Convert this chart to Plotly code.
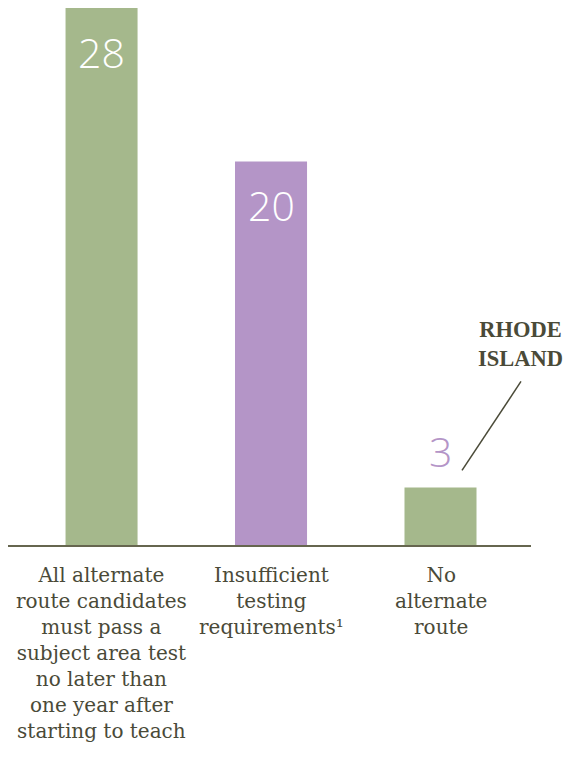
import plotly.graph_objects as go

# Alternate-route testing requirements: number of states in each group
categories = [
    "All alternate<br>route candidates<br>must pass a<br>subject area test<br>no later than<br>one year after<br>starting to teach",
    "Insufficient<br>testing<br>requirements¹",
    "No<br>alternate<br>route",
]
values = [28, 20, 3]
callout_text = "RHODE<br>ISLAND"

GREEN = "#a5b88c"
PURPLE = "#b495c7"
INK = "#4a4a38"

bar_colors = [GREEN, PURPLE, GREEN]
value_colors = ["#ffffff", "#ffffff", PURPLE]
value_inside = [True, True, False]

keys = [f"c{i}" for i in range(len(categories))]

fig = go.Figure(
    go.Bar(
        x=keys,
        y=values,
        marker=dict(color=bar_colors, line=dict(width=0)),
        width=0.425,
        hoverinfo="skip",
    )
)

annotations = []

# value labels: inside the bar top for tall bars, above the bar otherwise
for k, v, col, inside in zip(keys, values, value_colors, value_inside):
    annotations.append(
        dict(
            x=k, y=v, xref="x", yref="y",
            text=str(v), showarrow=False,
            yanchor="middle", xanchor="center",
            yshift=-44 if inside else 36,
            font=dict(family="Open Sans", size=41, color=col, weight=300),
        )
    )

# category labels under the baseline
for k, label in zip(keys, categories):
    annotations.append(
        dict(
            x=k, y=0, xref="x", yref="paper",
            text=label, showarrow=False,
            yanchor="top", xanchor="center", align="center",
            yshift=-16,
            font=dict(family="DejaVu Serif", size=20, color=INK),
        )
    )

# callout label for the state with no alternate route
annotations.append(
    dict(
        x=keys[2], y=values[2], xref="x", yref="y",
        text=callout_text, showarrow=False,
        xanchor="center", yanchor="middle",
        xshift=80, yshift=143,
        font=dict(family="Liberation Serif", size=22.5, color=INK, weight="bold"),
    )
)

# leader line from the callout down to the small bar
shapes = [
    dict(
        type="line",
        xref="x", yref="y",
        xsizemode="pixel", ysizemode="pixel",
        xanchor=2, yanchor=values[2],
        x0=21.5, x1=80.5, y0=17, y1=106,
        line=dict(color=INK, width=1.5),
    )
]

fig.update_layout(
    width=564,
    height=759,
    margin=dict(l=8, r=33, t=8, b=213.5),
    paper_bgcolor="white",
    plot_bgcolor="white",
    showlegend=False,
    annotations=annotations,
    shapes=shapes,
    xaxis=dict(
        type="category",
        range=[-0.552, 2.534],
        showline=True, linecolor="#66664f", linewidth=1.6,
        showticklabels=False, ticks="", showgrid=False, zeroline=False,
        fixedrange=True,
    ),
    yaxis=dict(
        range=[0, 28],
        visible=False, showgrid=False, zeroline=False,
        fixedrange=True,
    ),
)

fig.write_html("out.html", config={"displayModeBar": False})
